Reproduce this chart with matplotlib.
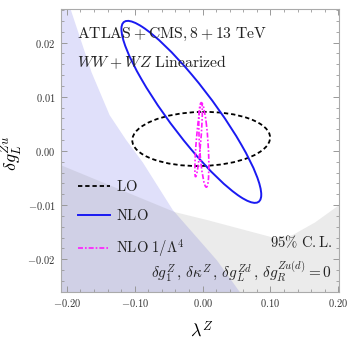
import numpy as np
import matplotlib
matplotlib.use('Agg')
import matplotlib.pyplot as plt
from matplotlib.patches import Ellipse, Polygon
from matplotlib.ticker import MultipleLocator, FuncFormatter
from matplotlib.lines import Line2D

plt.rcParams['mathtext.fontset'] = 'cm'
plt.rcParams['font.family'] = 'serif'

# 95% C.L. contours:
# centre, half-extent along lambda^Z, half-extent along dg_L^Zu, correlation
lo_fit   = dict(x0=-0.0020, y0=0.0022, sx=0.1015, sy=0.0050, rho=0.05)
nlo_fit  = dict(x0=-0.0165, y0=0.0072, sx=0.1030, sy=0.0168, rho=-0.91)
# the 1/Lambda^4 contour looks like two thin overlapping loops
l4_fit_a = dict(x0=-0.0058, y0=0.0020, sx=0.0055, sy=0.0068, rho=0.80)
l4_fit_b = dict(x0=0.0019, y0=0.0011, sx=0.0074, sy=0.0078, rho=-0.50)

# excluded regions (boundary points)
blue_x = [-0.30, -0.30, -0.199, -0.1945, -0.1635, -0.1369, -0.1125, -0.0882,
          -0.0439, 0.0211, 0.0551, 0.0699]
blue_y = [-0.030, 0.030, 0.0287, 0.0262, 0.0145, 0.0066, 0.0020, -0.0021,
          -0.0109, -0.0202, -0.0261, -0.0285]
grey_x = [-0.30, -0.2095, -0.0409, 0.0078, 0.1068, 0.1319, 0.1659, 0.2013, 0.2176, 0.30, -0.30]
grey_y = [0.0005, -0.0026, -0.0113, -0.0128, -0.0161, -0.0156, -0.0132, -0.0100, -0.0087,
          -0.030, -0.030]


def add_contour(ax, p, **kw):
    # turn extents + correlation into an ellipse patch in data space
    c = p['rho'] * p['sx'] * p['sy']
    cov = np.array([[p['sx']**2, c], [c, p['sy']**2]])
    vals, vecs = np.linalg.eigh(cov)
    ang = np.degrees(np.arctan2(vecs[1, 1], vecs[0, 1]))
    e = Ellipse((p['x0'], p['y0']), 2*np.sqrt(vals[1]), 2*np.sqrt(vals[0]),
                angle=ang, fill=False, **kw)
    ax.add_patch(e)


fig = plt.figure(figsize=(3.49, 3.39), dpi=100)
ax = fig.add_axes([0.1748, 0.1395, 0.7965, 0.8325])

ax.add_patch(Polygon(np.column_stack([blue_x, blue_y]), closed=True,
                     facecolor=(0.88, 0.88, 0.98), edgecolor='none', zorder=0))
ax.add_patch(Polygon(np.column_stack([grey_x, grey_y]), closed=True,
                     facecolor=(0.45, 0.45, 0.45), alpha=0.14, edgecolor='none', zorder=0.5))

lo_style  = dict(color='black', lw=1.3, linestyle=(0, (2.4, 1.6)))
nlo_style = dict(color=(0.1, 0.1, 0.95), lw=1.4, linestyle='-')
l4_style  = dict(color=(1.0, 0.1, 1.0), lw=1.2, linestyle=(0, (3, 1.2, 1, 1.2)))

add_contour(ax, lo_fit, **lo_style)
add_contour(ax, nlo_fit, **nlo_style)
add_contour(ax, l4_fit_a, **l4_style)
add_contour(ax, l4_fit_b, **l4_style)

ax.set_xlim(-0.2085, 0.201)
ax.set_ylim(-0.026, 0.0261)

ax.xaxis.set_major_locator(MultipleLocator(0.1))
ax.xaxis.set_minor_locator(MultipleLocator(0.02))
ax.yaxis.set_major_locator(MultipleLocator(0.01))
ax.yaxis.set_minor_locator(MultipleLocator(0.002))
fmt = FuncFormatter(lambda v, p: r'$%.2f$' % (0.0 if abs(v) < 1e-9 else v))
ax.xaxis.set_major_formatter(fmt)
ax.yaxis.set_major_formatter(fmt)
ax.tick_params(which='both', direction='in', top=True, right=True, color='#999999',
               labelsize=7.5, labelcolor='#333333', pad=4)
ax.tick_params(which='major', length=4, width=0.7)
ax.tick_params(which='minor', length=2.2, width=0.6)
for s in ax.spines.values():
    s.set_color('#aaaaaa')
    s.set_linewidth(0.8)

ax.set_xlabel(r'$\lambda^Z$', fontsize=13)
ax.set_ylabel(r'$\delta g_L^{Zu}$', fontsize=13)
ax.xaxis.set_label_coords(0.506, -0.1)
ax.yaxis.set_label_coords(-0.13, 0.49)

ax.text(0.057, 0.91, r'$\mathrm{ATLAS+CMS},8+13\ \mathrm{TeV}$', transform=ax.transAxes,
        fontsize=11.3, va='center', ha='left', color='#222222')
ax.text(0.057, 0.814, r'$WW+WZ\ \mathrm{Linearized}$', transform=ax.transAxes,
        fontsize=11.3, va='center', ha='left', color='#222222')
ax.text(0.974, 0.177, r'$95\%\ \mathrm{C.L.}$', transform=ax.transAxes,
        fontsize=10.5, va='center', ha='right', color='#222222')
ax.text(0.974, 0.07,
        r'$\delta g_1^Z\,,\,\delta\kappa^Z\,,\,\delta g_L^{Zd}\,,\,\delta g_R^{Zu(d)}=0$',
        transform=ax.transAxes, fontsize=11, va='center', ha='right', color='#222222')

handles = [Line2D([], [], **lo_style), Line2D([], [], **nlo_style), Line2D([], [], **l4_style)]
labels = [r'$\mathrm{LO}$', r'$\mathrm{NLO}$', r'$\mathrm{NLO}\ 1/\Lambda^4$']
leg = ax.legend(handles, labels, loc='upper left', bbox_to_anchor=(0.06, 0.40),
                frameon=False, fontsize=10.5, handlelength=2.2, handletextpad=0.45,
                labelspacing=0.98, borderpad=0, borderaxespad=0)
for t in leg.get_texts():
    t.set_color('#222222')

fig.savefig('out.png', dpi=100)
